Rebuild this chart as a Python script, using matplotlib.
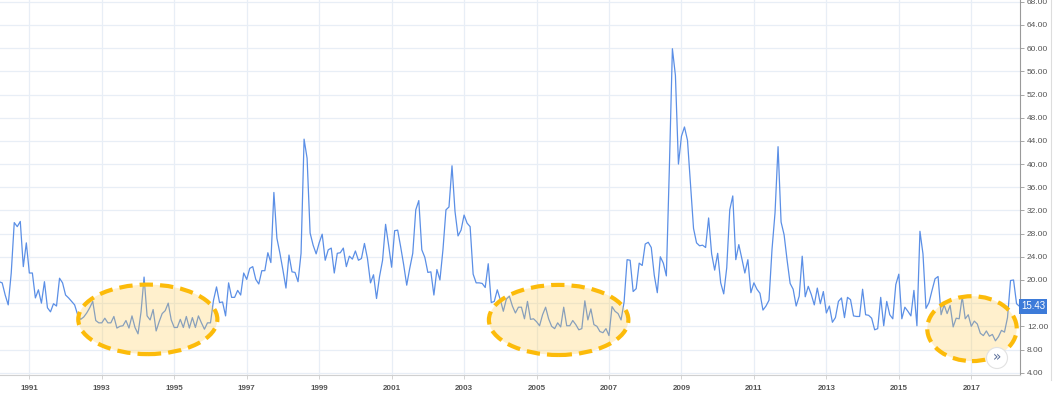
import matplotlib
matplotlib.use("Agg")
import matplotlib.pyplot as plt
from matplotlib.patches import Ellipse
import numpy as np

# monthly closes, Mar 1990 .. May 2018
vix_1990_1993 = [19.7, 19.5, 17.4, 15.7, 21.2, 29.9, 29.2, 30.1, 22.3, 26.4,
                 21.2, 21.2, 16.9, 18.3, 16.0, 19.7, 15.2, 14.5, 15.9, 15.5, 20.3, 19.5, 17.4, 16.9,
                 16.3, 15.7, 14.0, 13.2, 13.6, 14.3, 15.2, 16.3, 13.0, 12.6, 12.6, 13.4,
                 12.6, 12.6, 13.7, 11.7, 12.0, 12.1, 13.0, 11.7, 13.8, 11.8, 10.7, 14.5]
vix_1994_1996 = [20.5, 13.8, 13.1, 14.9, 11.2, 12.8, 14.2, 14.7, 16.0, 13.1, 11.8, 11.8,
                 13.2, 11.8, 13.7, 11.7, 13.5, 11.8, 13.8, 12.6, 11.5, 12.6, 12.6, 16.5,
                 18.8, 16.1, 16.2, 13.8, 19.5, 17.0, 17.0, 18.2, 17.4, 21.2, 20.1, 22.0]
vix_1997_2000 = [22.3, 20.1, 19.3, 21.6, 21.6, 24.7, 23.0, 35.1, 27.2, 24.6, 21.7, 18.6,
                 24.3, 21.4, 21.3, 19.7, 24.6, 44.3, 41.0, 28.1, 26.0, 24.5, 26.4, 27.9,
                 23.4, 25.2, 25.5, 21.2, 24.6, 24.7, 25.5, 22.3, 24.1, 23.6, 25.0, 23.4,
                 23.7, 26.3, 23.7, 19.5, 20.9, 16.8, 20.6, 23.4, 29.6, 26.0, 22.2]
vix_2001_2003 = [28.5, 28.6, 25.7, 22.6, 19.1, 22.0, 24.6, 32.1, 33.7, 25.2, 23.9,
                 21.3, 21.4, 17.4, 21.8, 20.0, 25.2, 32.1, 32.6, 39.7, 31.8, 27.6, 28.6,
                 31.2, 29.8, 29.2, 21.0, 19.5, 19.5, 19.4, 18.7, 22.8, 16.1, 16.3, 18.3]
vix_2004_2007 = [16.6, 14.6, 16.7, 17.2, 15.5, 14.3, 15.3, 15.3, 13.3, 16.3, 13.2, 13.3,
                 12.8, 12.1, 14.0, 15.3, 13.3, 12.0, 11.6, 12.6, 11.9, 15.3, 12.1, 12.1,
                 13.0, 12.3, 11.4, 11.6, 16.4, 13.1, 15.0, 12.3, 12.0, 11.1, 10.9, 11.6,
                 10.4, 15.4, 14.6, 14.2, 13.1, 16.2, 23.5, 23.4, 18.0, 18.5, 22.9, 22.5]
vix_2008_2011 = [26.2, 26.5, 25.6, 20.8, 17.8, 24.0, 22.9, 20.7, 39.4, 59.9, 55.3, 40.0,
                 44.8, 46.4, 44.1, 36.5, 28.9, 26.4, 25.9, 26.0, 25.6, 30.7, 24.5, 21.7,
                 24.6, 19.5, 17.6, 22.1, 32.1, 34.5, 23.5, 26.1, 23.7, 21.2, 23.5, 17.8,
                 19.5, 18.4, 17.7, 14.8, 15.5, 16.5, 25.3, 31.6, 43.0, 30.0, 27.8, 23.4]
vix_2012_2015 = [19.4, 18.4, 15.5, 17.2, 24.1, 17.1, 18.9, 17.5, 15.7, 18.6, 15.9, 18.0,
                 14.3, 15.5, 12.7, 13.5, 16.3, 16.9, 13.5, 17.0, 16.6, 13.8, 13.7, 13.7,
                 18.4, 14.0, 13.9, 13.4, 11.4, 11.6, 17.0, 12.1, 16.3, 14.0, 13.3, 19.2,
                 21.0, 13.3, 15.3, 14.6, 13.8, 18.2, 12.1, 28.4, 24.5, 15.1, 16.1, 18.2]
vix_2016_2018 = [20.2, 20.6, 14.0, 15.7, 14.2, 15.6, 11.9, 13.4, 13.3, 17.1, 13.3, 14.0,
                 12.0, 12.9, 12.4, 10.8, 10.4, 11.2, 10.3, 10.6, 9.5, 10.2, 11.3, 11.0,
                 13.5, 19.9, 20.0, 15.9, 15.43]

values = np.array(vix_1990_1993 + vix_1994_1996 + vix_1997_2000 + vix_2001_2003
                  + vix_2004_2007 + vix_2008_2011 + vix_2012_2015 + vix_2016_2018)
t = 1990 + 2 / 12 + np.arange(len(values)) / 12.0

year_ticks = list(range(1991, 2018, 2))
y_ticks = list(range(4, 69, 4))
last_value = "15.43"

# low-volatility periods: (centre year, centre value, width yrs, height)
calm_zones = [(1994.27, 13.2, 3.84, 12.0),
              (2005.61, 13.1, 3.85, 12.1),
              (2017.02, 11.6, 2.47, 11.2)]

fig = plt.figure(figsize=(10.56, 3.96), dpi=100)
ax = fig.add_axes([0, 1 - 375 / 396, 1020 / 1056, 375 / 396])

ax.plot(t, values, color="#5b8fe6", lw=0.9, zorder=3)

for cx, cy, w, h in calm_zones:
    ax.add_patch(Ellipse((cx, cy), w, h, facecolor=(1.0, 0.80, 0.30, 0.28),
                         edgecolor="none", zorder=4))
    ax.add_patch(Ellipse((cx, cy), w, h, facecolor="none", edgecolor="#fcbb0a",
                         lw=3.0, linestyle=(0, (3.2, 1.7)), zorder=5))

ax.set_xlim(1990.19, 2018.345)
ax.set_ylim(3.6, 68.31)
ax.set_xticks(year_ticks)
ax.set_xticklabels([str(y) for y in year_ticks], fontsize=5.8, fontweight="bold",
                   color="#555555", family="Liberation Sans")
ax.set_yticks(y_ticks)
# the 16.00 label sits under the last-value badge, so it is left blank
ax.set_yticklabels(["" if v == 16 else "%.2f" % v for v in y_ticks], fontsize=6,
                   color="#555555", family="Liberation Sans")
ax.yaxis.tick_right()
ax.tick_params(axis="y", length=3, width=0.6, color="#999999", pad=2)
ax.tick_params(axis="x", length=3, width=0.6, color="#cccccc", pad=4)
ax.grid(True, color="#e8eef6", lw=0.9, zorder=0)
for side in ["top", "left"]:
    ax.spines[side].set_visible(False)
ax.spines["right"].set_color("#9a9a9a")
ax.spines["right"].set_linewidth(0.8)
ax.spines["bottom"].set_color("#d0d0d0")
ax.spines["bottom"].set_linewidth(0.8)

# last value marker on the price axis
ax.text(1.0012, 15.43, last_value, transform=ax.get_yaxis_transform(), ha="left",
        va="center", fontsize=7, color="white", family="Liberation Sans",
        bbox=dict(boxstyle="square,pad=0.22", fc="#3d7bd9", ec="none"), zorder=6)

# scroll button and side bar
fig.add_artist(Ellipse((997 / 1056, 1 - 358 / 396), 21 / 1056, 21 / 396,
                       transform=fig.transFigure, facecolor="white",
                       edgecolor="#e2e2e2", lw=0.8, zorder=7))
fig.text(997 / 1056, 1 - 357 / 396, "\u00bb", ha="center", va="center", fontsize=10,
         color="#5a6f9a", zorder=8)
fig.add_artist(plt.Line2D([1051 / 1056, 1051 / 1056], [0.04, 1.0], color="#dddddd", lw=0.8))

fig.savefig("out.png", dpi=100)
